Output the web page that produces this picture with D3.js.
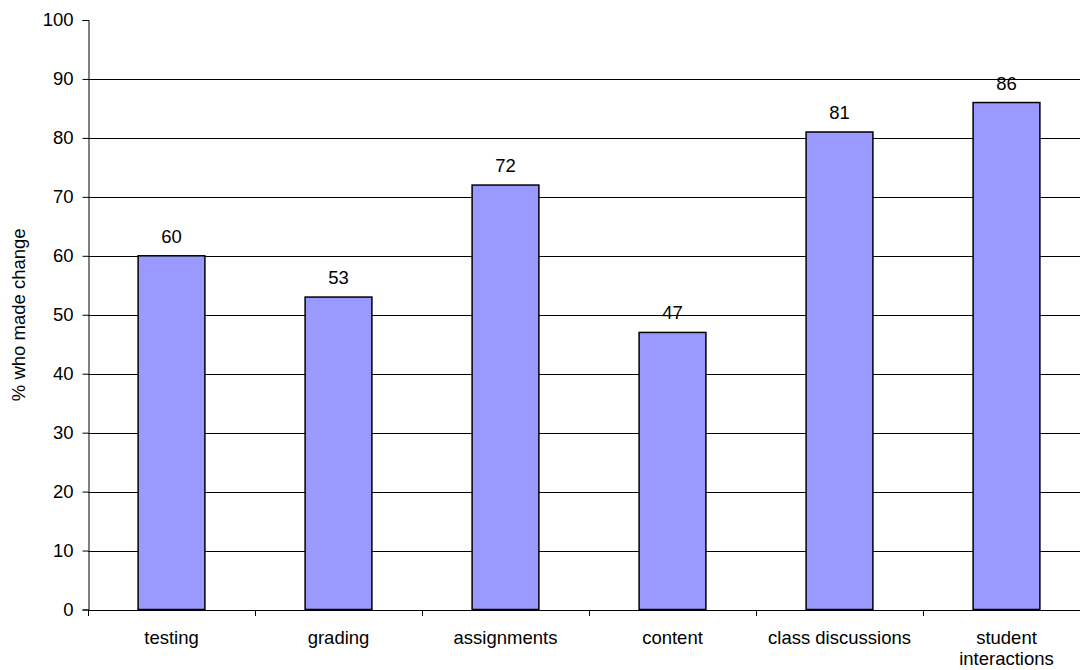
<!DOCTYPE html>
<html>
<head>
<meta charset="utf-8">
<script src="https://cdn.jsdelivr.net/npm/d3@7"></script>
<style>
  body { margin: 0; background: #fff; }
  text { font-family: "Liberation Sans", Arial, sans-serif; fill: #000; }
</style>
</head>
<body>
<script>
const categories = ['testing', 'grading', 'assignments', 'content', 'class discussions', 'student interactions']
const values = [60, 53, 72, 47, 81, 86]
const yTicks = [0, 10, 20, 30, 40, 50, 60, 70, 80, 90, 100]
const yLabel = '% who made change'

const width = 1080
const height = 670
const margin = { top: 20, right: -10, bottom: 60.5, left: 88 }
const fontSize = 18.5

const svg = d3.select('body')
  .append('svg')
  .attr('width', width)
  .attr('height', height)

const x = d3.scaleBand()
  .domain(categories)
  .range([margin.left, width - margin.right])
  .paddingInner(0.6)
  .paddingOuter(0.3)

const band = d3.scaleBand()
  .domain(categories)
  .range([margin.left, width - margin.right])

const y = d3.scaleLinear()
  .domain([0, 100])
  .range([height - margin.bottom, margin.top])

// gridlines (not at the top)
svg.append('g')
  .selectAll('line')
  .data(yTicks.filter(d => d > 0 && d < 100))
  .join('line')
  .attr('x1', margin.left)
  .attr('x2', width)
  .attr('y1', d => Math.round(y(d)) + 0.5)
  .attr('y2', d => Math.round(y(d)) + 0.5)
  .attr('stroke', '#000')
  .attr('stroke-width', 1)

// bars
svg.append('g')
  .selectAll('rect')
  .data(values)
  .join('rect')
  .attr('x', (d, i) => x(categories[i]))
  .attr('y', d => y(d))
  .attr('width', x.bandwidth())
  .attr('height', d => y(0) - y(d))
  .attr('fill', '#9999ff')
  .attr('stroke', '#000')
  .attr('stroke-width', 1.5)

// value labels
svg.append('g')
  .selectAll('text')
  .data(values)
  .join('text')
  .attr('x', (d, i) => x(categories[i]) + x.bandwidth() / 2)
  .attr('y', d => y(d) - 13)
  .attr('text-anchor', 'middle')
  .attr('font-size', fontSize)
  .text(d => d)

// y axis
const yAxis = svg.append('g')
  .attr('transform', `translate(${margin.left + 0.5},0)`)
  .call(d3.axisLeft(y).tickValues(yTicks).tickSize(6).tickPadding(9))
yAxis.select('.domain').attr('stroke', '#000')
yAxis.selectAll('.tick line').attr('stroke', '#000')
yAxis.selectAll('.tick text')
  .attr('font-size', fontSize)
  .attr('font-family', '"Liberation Sans", Arial, sans-serif')
  .attr('fill', '#000')

// x axis
const xAxis = svg.append('g')
  .attr('transform', `translate(0,${Math.round(y(0)) + 0.5})`)
  .call(d3.axisBottom(band).tickSize(0).tickPadding(20))
xAxis.select('.domain').attr('stroke', '#000').attr('d', `M${margin.left},0H${width}`)
xAxis.selectAll('.tick text')
  .attr('font-size', fontSize)
  .attr('font-family', '"Liberation Sans", Arial, sans-serif')
  .attr('fill', '#000')
  .each(function (d) {
    const t = d3.select(this)
    if (d === 'student interactions') {
      t.text(null)
      const words = d.split(' ')
      words.forEach((w, i) => {
        t.append('tspan').attr('x', 0).attr('dy', i === 0 ? '0.71em' : '1.15em').text(w)
      })
    }
  })

// category boundary ticks
svg.append('g')
  .selectAll('line')
  .data(categories)
  .join('line')
  .attr('x1', d => Math.round(band(d)) + 0.5)
  .attr('x2', d => Math.round(band(d)) + 0.5)
  .attr('y1', Math.round(y(0)))
  .attr('y2', Math.round(y(0)) + 6)
  .attr('stroke', '#000')

// y label
svg.append('text')
  .attr('transform', `translate(25,${(y(0) + y(100)) / 2}) rotate(-90)`)
  .attr('text-anchor', 'middle')
  .attr('font-size', fontSize)
  .text(yLabel)
</script>
</body>
</html>
